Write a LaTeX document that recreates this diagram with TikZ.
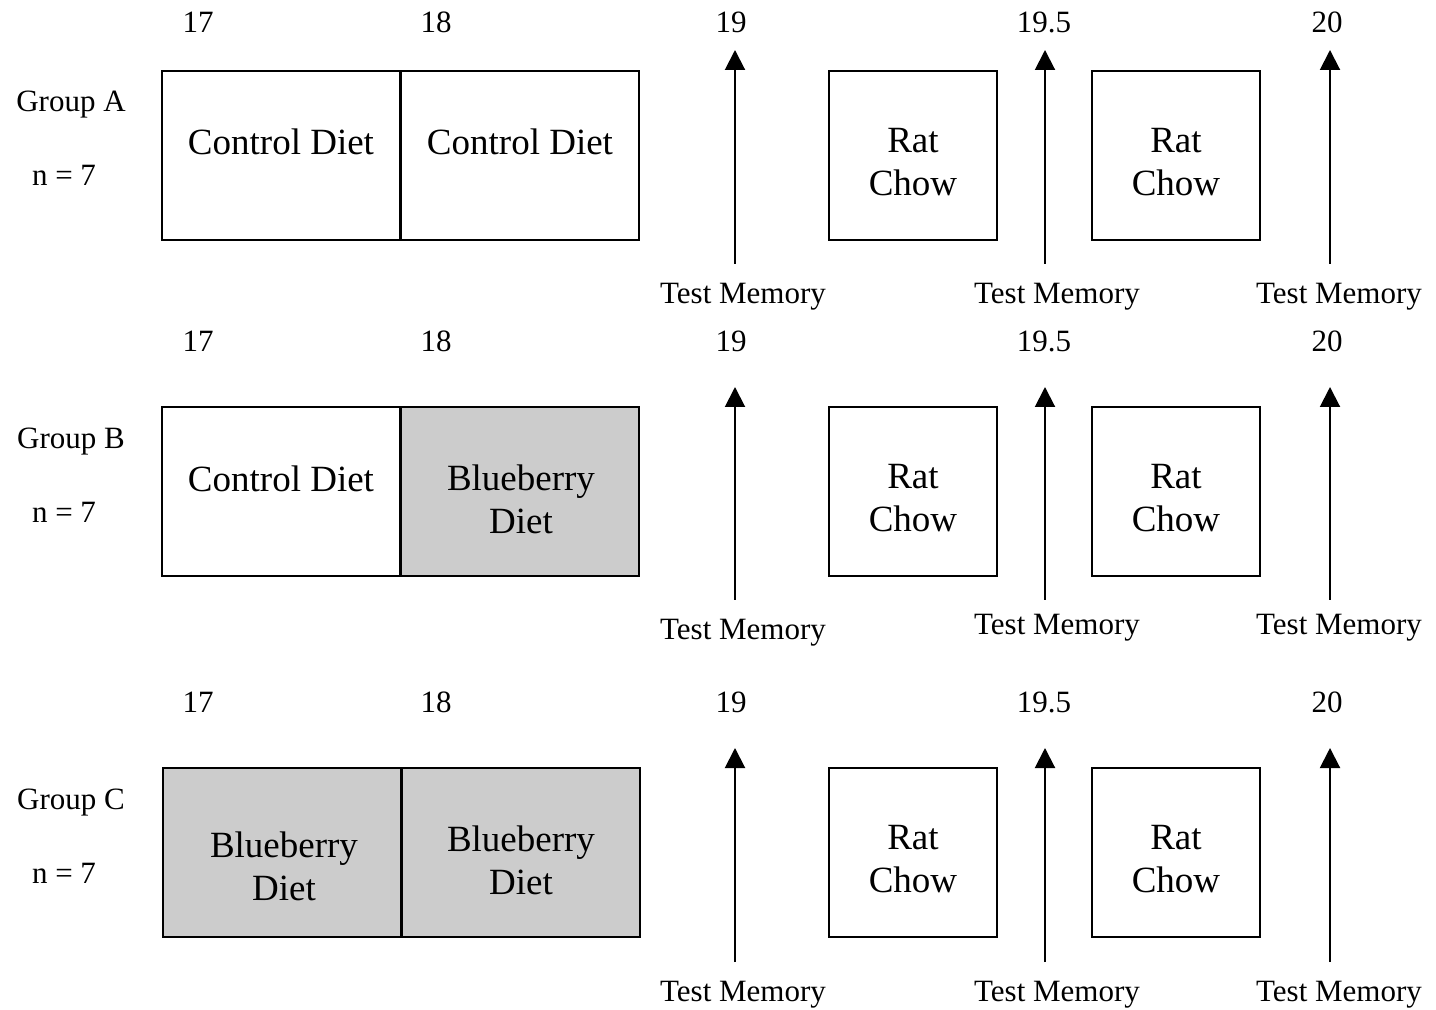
\documentclass[tikz,border=0pt]{standalone}
\usepackage{fontspec}
\setmainfont{Liberation Serif}
\usetikzlibrary{arrows.meta}
\begin{document}
\begin{tikzpicture}[x=0.5pt,y=-0.5pt,
  box/.style={draw,line width=1pt,inner sep=0pt,minimum height=84.5pt},
  dietbox/.style={box,minimum width=119pt},
  chowbox/.style={box,minimum width=84pt},
  berry/.style={fill=black!20},
  boxtxt/.style={inner sep=0pt,align=center,font=\fontsize{18.5}{21.5}\selectfont},
  lbl/.style={inner sep=0pt,font=\fontsize{15.5}{18}\selectfont},
  up/.style={-{Triangle[length=10pt,width=10pt]},line width=1pt}]
\useasboundingbox (0,0) rectangle (1436,1010);
\foreach \r/\ny/\bt/\at/\ab/\tmy/\tmyb/\gy/\nny in {
  A/22/71/50/264/297/297/105/175,
  B/341/407/387/600/633/628/442/512,
  C/702/768/748/962/995/995/803/873}{
  % numbers
  \node[lbl] (n17\r) at (198,\ny) {17};
  \node[lbl] (n18\r) at (436,\ny) {18};
  \node[lbl] (n19\r) at (731,\ny) {19};
  \node[lbl] (n195\r) at (1044,\ny) {19.5};
  \node[lbl] (n20\r) at (1327,\ny) {20};
  % group labels
  \node[lbl] (g\r) at (71,\gy) {Group \r};
  \node[lbl] (nn\r) at (64,\nny) {n = 7};
  % rat chow boxes
  \node[chowbox] (rc1\r) at (913,\bt+84.5) {};
  \node[chowbox] (rc2\r) at (1176,\bt+84.5) {};
  \node[boxtxt] (rct1\r) at (913,\bt+91) {Rat\\Chow};
  \node[boxtxt] (rct2\r) at (1176,\bt+91) {Rat\\Chow};
  % test memory labels and arrows
  \node[lbl] (tm1\r) at (743,\tmy) {Test Memory};
  \node[lbl] (tm2\r) at (1057,\tmyb) {Test Memory};
  \node[lbl] (tm3\r) at (1339,\tmyb) {Test Memory};
  \coordinate (t1\r) at (735,\at);
  \coordinate (t2\r) at (1045,\at);
  \coordinate (t3\r) at (1330,\at);
  \coordinate (b1\r) at (735,\ab);
  \coordinate (b2\r) at (1045,\ab);
  \coordinate (b3\r) at (1330,\ab);
  \draw[up] (b1\r) -- (t1\r);
  \draw[up] (b2\r) -- (t2\r);
  \draw[up] (b3\r) -- (t3\r);
}
% diet boxes
\node[dietbox] (d1A) at (281,155.5) {};
\node[dietbox] (d2A) at (520,155.5) {};
\node[boxtxt] (d1At) at (281,142) {Control Diet};
\node[boxtxt] (d2At) at (520,142) {Control Diet};
\node[dietbox] (d1B) at (281,492) {};
\node[dietbox,berry] (d2B) at (520,492) {};
\node[boxtxt] (d1Bt) at (281,479) {Control Diet};
\node[boxtxt] (d2Bt) at (521,499) {Blueberry\\Diet};
\node[dietbox,berry] (d1C) at (282,852.5) {};
\node[dietbox,berry] (d2C) at (521,852.5) {};
\node[boxtxt] (d1Ct) at (284,866) {Blueberry\\Diet};
\node[boxtxt] (d2Ct) at (521,860) {Blueberry\\Diet};
\end{tikzpicture}
\end{document}
